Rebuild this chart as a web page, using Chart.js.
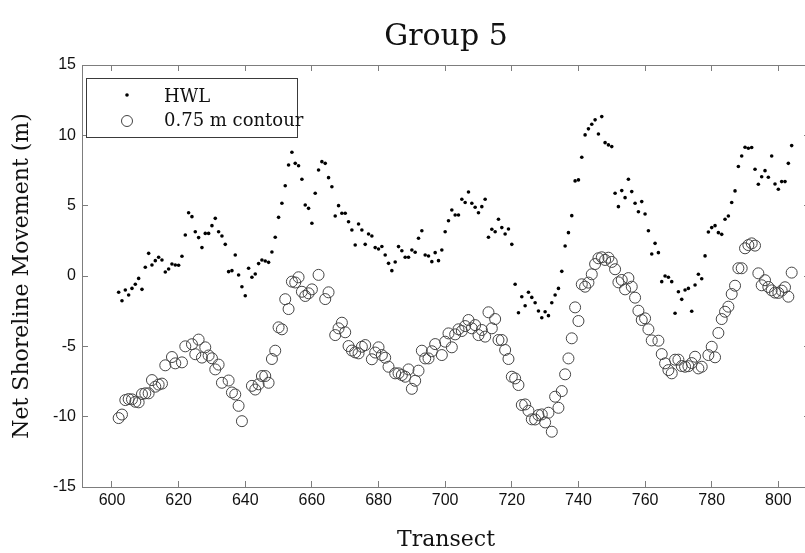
<!DOCTYPE html>
<html>
<head>
<meta charset="utf-8">
<title>Group 5</title>
<script src="https://cdn.jsdelivr.net/npm/chart.js@4.4.1/dist/chart.umd.min.js"></script>
<style>
  html, body { margin: 0; padding: 0; background: #ffffff; overflow: hidden; }
  /* the plot frame's right edge sits just past the visible window */
  #wrap { width: 805px; height: 553px; overflow: hidden; }
</style>
</head>
<body>
<div id="wrap"><canvas id="chart" width="810" height="553"></canvas></div>
<script>
// Net shoreline movement per transect, Group 5
const hwlTransects = [
  602,603,604,605,606,607,608,609,610,611,612,613,614,615,616,617,618,619,620,621,
  622,623,624,625,626,627,628,629,630,631,632,633,634,635,636,637,638,639,640,641,
  642,643,644,645,646,647,648,649,650,651,652,653,654,655,656,657,658,659,660,661,
  662,663,664,665,666,667,668,669,670,671,672,673,674,675,676,677,678,679,680,681,
  682,683,684,685,686,687,688,689,690,691,692,693,694,695,696,697,698,699,700,701,
  702,703,704,705,706,707,708,709,710,711,712,713,714,715,716,717,718,719,720,721,
  722,723,724,725,726,727,728,729,730,731,732,733,734,735,736,737,738,739,740,741,
  742,743,744,745,746,747,748,749,750,751,752,753,754,755,756,757,758,759,760,761,
  762,763,764,765,766,767,768,769,770,771,772,773,774,775,776,777,778,779,780,781,
  782,783,784,785,786,787,788,789,790,791,792,793,794,795,796,797,798,799,800,801,
  802,803,804
];
const hwlValues = [
  -1.16,-1.76,-1.00,-1.35,-0.88,-0.59,-0.17,-0.95,0.62,1.61,0.78,1.09,1.33,1.14,0.28,0.50,0.85,0.78,0.76,1.40,
  2.92,4.50,4.22,3.15,2.73,2.02,3.03,3.03,3.58,4.10,3.15,2.84,2.25,0.31,0.38,1.49,0.07,-0.76,-1.40,0.55,
  -0.09,0.14,0.88,1.14,1.07,0.97,1.71,2.75,4.17,5.17,6.42,7.89,8.80,8.01,7.84,6.88,5.05,4.81,3.75,5.88,
  7.54,8.13,8.01,6.99,6.35,4.27,5.00,4.46,4.46,3.86,3.27,2.20,3.70,3.27,2.25,2.99,2.84,2.02,1.92,2.10,
  1.49,0.90,0.38,1.00,2.09,1.80,1.33,1.33,1.85,1.69,2.68,3.22,1.49,1.42,1.02,1.66,1.09,1.85,3.15,3.93,
  4.69,4.34,4.34,5.46,5.22,5.97,5.17,4.89,4.50,4.93,5.46,2.75,3.32,3.15,4.03,3.44,2.99,3.34,2.25,-0.59,
  -2.61,-1.47,-2.11,-1.16,-1.52,-1.90,-2.49,-2.97,-2.54,-2.82,-1.90,-1.35,-0.88,0.33,2.13,3.08,4.29,6.76,6.83,8.44,
  10.03,10.46,10.79,11.10,10.10,11.33,9.48,9.32,9.20,5.88,4.93,6.07,5.57,6.88,6.00,5.17,4.57,5.29,4.41,3.22,
  1.56,2.32,1.66,-0.40,0.00,-0.09,-0.40,-2.65,-1.12,-1.66,-1.00,-0.88,-2.51,-0.64,0.12,-0.20,1.43,3.13,3.44,3.58,
  3.08,2.96,4.03,4.27,5.22,6.05,7.78,8.53,9.15,9.08,9.13,7.59,6.52,7.06,7.49,7.02,8.53,6.54,6.17,6.71,
  6.71,8.01,9.27
];

const contourTransects = [
  602,603,604,605,606,607,608,609,610,611,612,613,614,615,616,618,619,621,622,624,
  625,626,627,628,629,630,631,632,633,635,636,637,638,639,642,643,644,645,646,647,
  648,649,650,651,652,653,654,655,656,657,658,659,660,662,664,665,667,668,669,670,
  671,672,673,674,675,676,678,679,680,681,682,683,685,686,687,688,689,690,691,692,
  693,694,695,696,697,699,700,701,702,703,704,705,706,707,708,709,710,711,712,713,
  714,715,716,717,718,719,720,721,722,723,724,725,726,727,728,729,730,731,732,733,
  734,735,736,737,738,739,740,741,742,743,744,745,746,747,748,749,750,751,752,753,
  754,755,756,757,758,759,760,761,762,764,765,766,767,768,769,770,771,772,773,774,
  775,776,777,779,780,781,782,783,784,785,786,787,788,789,790,791,792,793,794,795,
  796,797,798,799,800,801,802,803,804
];
const contourValues = [
  -10.10,-9.85,-8.82,-8.75,-8.77,-8.94,-8.98,-8.39,-8.34,-8.34,-7.40,-7.87,-7.72,-7.65,-6.35,-5.76,-6.21,-6.14,-5.00,-4.85,
  -5.56,-4.52,-5.80,-5.07,-5.65,-5.85,-6.64,-6.30,-7.59,-7.43,-8.28,-8.42,-9.23,-10.32,-7.81,-8.07,-7.70,-7.11,-7.11,-7.59,
  -5.90,-5.31,-3.65,-3.79,-1.65,-2.35,-0.40,-0.46,-0.09,-1.12,-1.42,-1.23,-0.95,0.08,-1.64,-1.16,-4.20,-3.72,-3.32,-4.00,
  -4.98,-5.30,-5.43,-5.50,-5.03,-4.91,-5.92,-5.44,-5.07,-5.62,-5.81,-6.45,-6.92,-6.92,-7.04,-7.16,-6.64,-8.02,-7.45,-6.73,
  -5.31,-5.86,-5.86,-5.35,-4.84,-5.62,-4.67,-4.08,-5.07,-4.15,-3.79,-3.91,-3.56,-3.13,-3.72,-3.49,-4.20,-3.84,-4.31,-2.58,
  -3.72,-3.06,-4.55,-4.55,-5.26,-5.90,-7.16,-7.28,-7.75,-9.17,-9.13,-9.58,-10.19,-10.20,-9.89,-9.84,-10.41,-9.72,-11.07,-8.58,
  -9.37,-8.18,-6.99,-5.86,-4.43,-2.23,-3.20,-0.59,-0.76,-0.47,0.12,0.85,1.26,1.33,1.14,1.30,1.00,0.48,-0.45,-0.28,
  -0.95,-0.15,-0.76,-1.54,-2.47,-3.13,-3.01,-3.79,-4.58,-4.60,-5.55,-6.21,-6.69,-6.92,-5.95,-5.95,-6.40,-6.45,-6.41,-6.19,
  -5.74,-6.57,-6.45,-5.62,-5.03,-5.78,-4.05,-3.06,-2.54,-2.18,-1.28,-0.69,0.55,0.55,1.97,2.20,2.32,2.16,0.19,-0.66,
  -0.30,-0.78,-1.02,-1.18,-1.20,-1.04,-0.80,-1.47,0.24
];

const xTickValues = [600, 620, 640, 660, 680, 700, 720, 740, 760, 780, 800];
const yTickValues = [-15, -10, -5, 0, 5, 10, 15];
const seriesNames = ['HWL', '0.75 m contour'];

const AXIS_GRAY = '#7d7d7d';
const serif = "'DejaVu Serif', 'Liberation Serif', serif";
const sans = "'Liberation Sans', Arial, sans-serif";

const X_MIN = 591, X_MAX = 809.5;

const toPoints = (xs, ys) => xs.map((x, i) => ({ x: x, y: ys[i] }));

// Inward tick marks on all four sides, like a boxed plot frame
const frameGrid = {
  display: true,
  drawOnChartArea: false,
  drawTicks: true,
  tickLength: -6,
  tickColor: AXIS_GRAY,
  tickWidth: 1
};
const frameBorder = { display: true, color: AXIS_GRAY, width: 1 };

const setTicks = values => scale => { scale.ticks = values.map(v => ({ value: v })); };

// Fixed box sizes so the plot area does not shrink for label overhang
const fixHorizontal = h => s => { s.height = h; s.paddingLeft = 0; s.paddingRight = 0; };
const fixVertical = w => s => { s.width = w; s.paddingTop = 0; s.paddingBottom = 0; };

// Legend box drawn in the upper-left corner of the plot area
const boxedLegend = {
  id: 'boxedLegend',
  afterDraw(chart) {
    const ctx = chart.ctx;
    const area = chart.chartArea;
    const left = area.left + 4, top = area.top + 13, w = 211, h = 59;
    ctx.save();
    ctx.fillStyle = '#ffffff';
    ctx.fillRect(left, top, w, h);
    ctx.strokeStyle = '#3a3a3a';
    ctx.lineWidth = 1;
    ctx.strokeRect(left + 0.5, top + 0.5, w, h);

    const mx = left + 41;
    const rows = [top + 18, top + 43];
    // HWL marker
    ctx.fillStyle = '#000000';
    ctx.beginPath();
    ctx.arc(mx, rows[0] - 1, 1.8, 0, Math.PI * 2);
    ctx.fill();
    // contour marker
    ctx.strokeStyle = '#444444';
    ctx.beginPath();
    ctx.arc(mx, rows[1], 5.5, 0, Math.PI * 2);
    ctx.stroke();

    ctx.fillStyle = '#111111';
    ctx.font = "18px " + serif;
    ctx.textAlign = 'left';
    ctx.textBaseline = 'middle';
    ctx.fillText(seriesNames[0], left + 78, rows[0] + 1);
    ctx.fillText(seriesNames[1], left + 78, rows[1]);
    ctx.restore();
  }
};

new Chart(document.getElementById('chart'), {
  type: 'scatter',
  data: {
    datasets: [
      {
        label: seriesNames[0],
        data: toPoints(hwlTransects, hwlValues),
        pointRadius: 1.8,
        pointBackgroundColor: '#000000',
        pointBorderWidth: 0,
        pointBorderColor: '#000000',
        showLine: false
      },
      {
        label: seriesNames[1],
        data: toPoints(contourTransects, contourValues),
        pointRadius: 5.5,
        pointBackgroundColor: 'rgba(0,0,0,0)',
        pointBorderColor: '#444444',
        pointBorderWidth: 1,
        showLine: false
      }
    ]
  },
  options: {
    responsive: false,
    animation: false,
    devicePixelRatio: 1,
    layout: { autoPadding: false, padding: { left: 0, right: 0, top: 0, bottom: 0 } },
    plugins: {
      legend: { display: false },
      tooltip: { enabled: false },
      title: {
        display: true,
        text: 'Group 5',
        fullSize: false,
        color: '#111111',
        font: { family: serif, size: 30, weight: 'normal', lineHeight: 1.2 },
        padding: { top: 19, bottom: 10 }
      }
    },
    scales: {
      x: {
        type: 'linear',
        position: 'bottom',
        min: X_MIN,
        max: X_MAX,
        afterBuildTicks: setTicks(xTickValues),
        afterFit: fixHorizontal(66),
        grid: frameGrid,
        border: frameBorder,
        ticks: {
          color: '#111111',
          font: { family: sans, size: 16 },
          padding: 10,
          maxRotation: 0,
          autoSkip: false
        },
        title: {
          display: true,
          text: 'Transect',
          color: '#111111',
          font: { family: serif, size: 22, lineHeight: 1 },
          padding: { top: 0, bottom: 2 }
        }
      },
      xTop: {
        type: 'linear',
        position: 'top',
        min: X_MIN,
        max: X_MAX,
        afterBuildTicks: setTicks(xTickValues),
        afterFit: fixHorizontal(0),
        grid: frameGrid,
        border: frameBorder,
        ticks: { display: false }
      },
      y: {
        type: 'linear',
        position: 'left',
        min: -15,
        max: 15,
        afterBuildTicks: setTicks(yTickValues),
        afterFit: fixVertical(82),
        grid: frameGrid,
        border: frameBorder,
        ticks: {
          color: '#111111',
          font: { family: sans, size: 16 },
          padding: 12,
          autoSkip: false
        },
        title: {
          display: true,
          text: 'Net Shoreline Movement (m)',
          color: '#111111',
          font: { family: serif, size: 22, lineHeight: 1.2 },
          padding: { top: 9, bottom: 0 }
        }
      },
      yRight: {
        type: 'linear',
        position: 'right',
        min: -15,
        max: 15,
        afterBuildTicks: setTicks(yTickValues),
        afterFit: fixVertical(0),
        grid: frameGrid,
        border: frameBorder,
        ticks: { display: false }
      }
    }
  },
  plugins: [boxedLegend]
});
</script>
</body>
</html>
